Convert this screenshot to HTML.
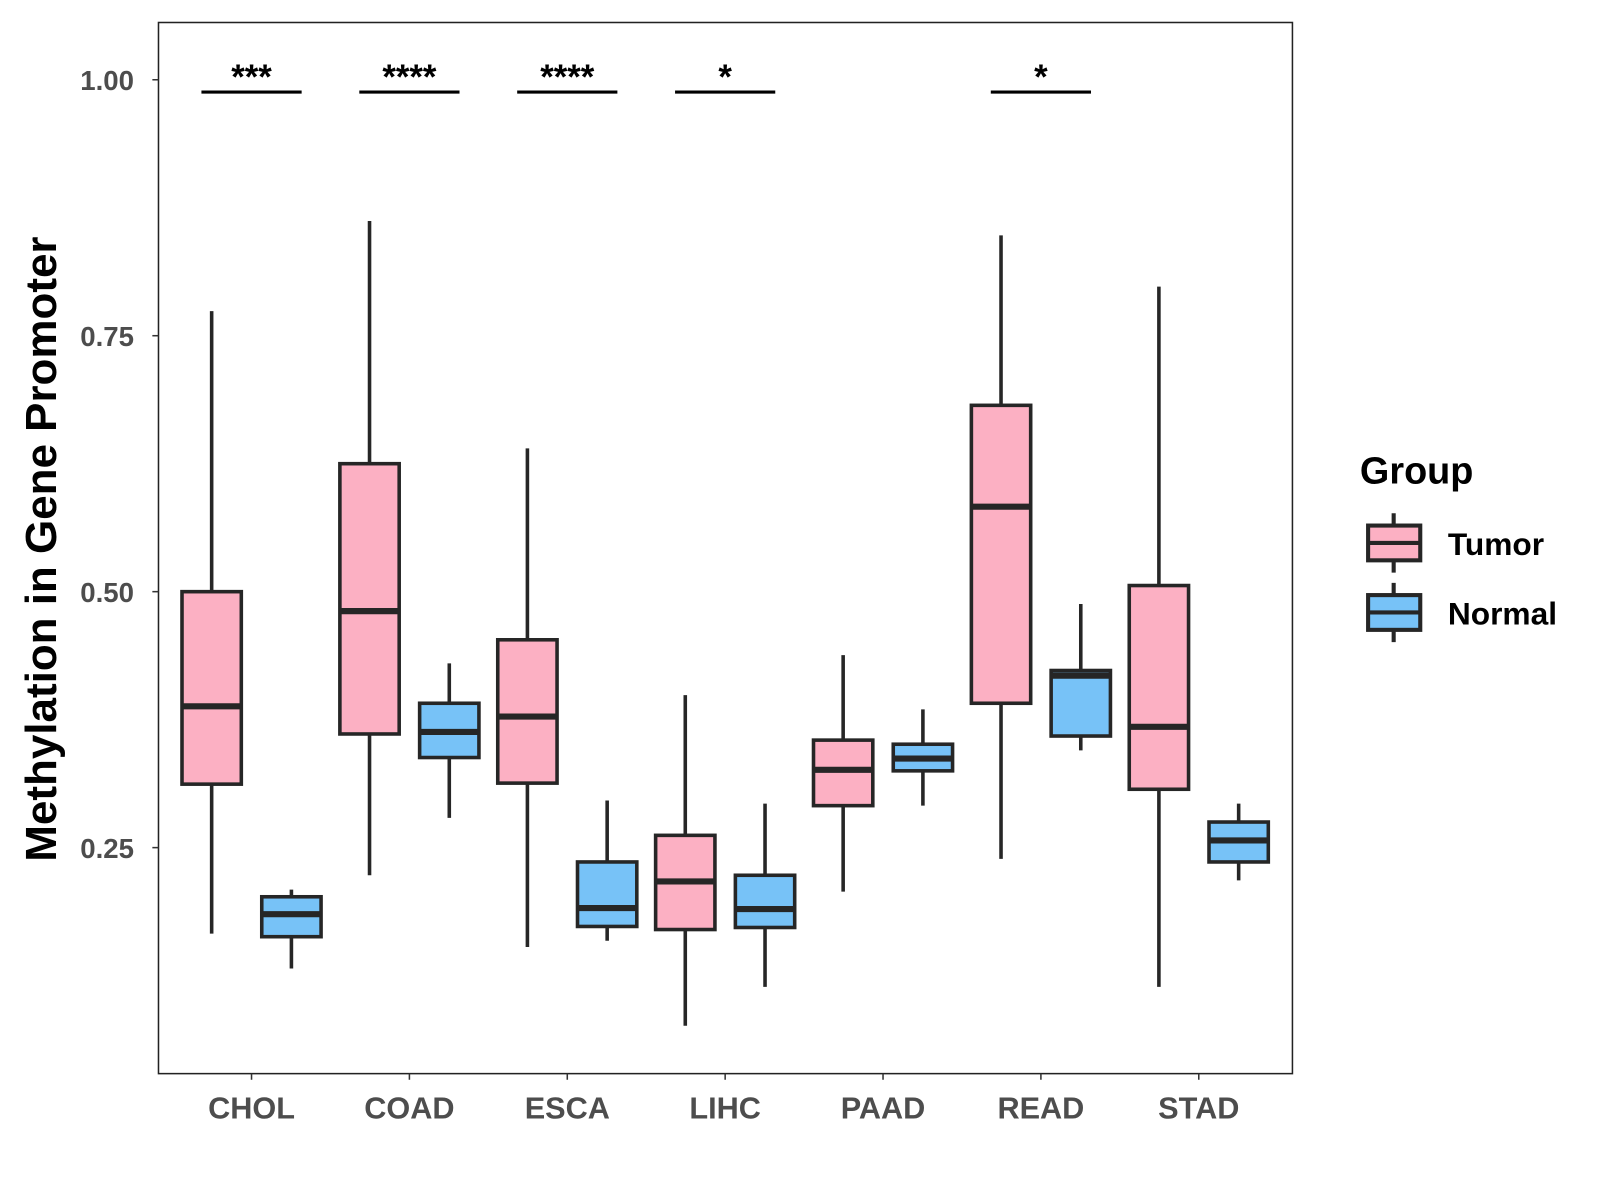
<!DOCTYPE html>
<html><head><meta charset="utf-8"><style>body{margin:0;background:#fff}svg{display:block;font-family:"Liberation Sans",Arial,sans-serif}</style></head>
<body>
<svg id="chart" width="1600" height="1200" xmlns="http://www.w3.org/2000/svg">
<g transform="scale(1.0225)">
<rect x="155" y="22" width="1109" height="1028" fill="#fff" stroke="#222" stroke-width="1.5"/>
<g id="marks"></g>
<text transform="translate(55,537) rotate(-90)" text-anchor="middle" font-size="43" font-weight="bold" fill="#000">Methylation in Gene Promoter</text>
<g>
<text x="1330" y="473" font-size="37" font-weight="bold">Group</text>
<g>
<line x1="1363" y1="502" x2="1363" y2="560" stroke="#262626" stroke-width="4"/>
<rect x="1338" y="514" width="51" height="34" fill="#FCB0C3" stroke="#262626" stroke-width="4"/>
<line x1="1338" y1="531" x2="1389" y2="531" stroke="#262626" stroke-width="4"/>
<text x="1416" y="543" font-size="31" font-weight="bold">Tumor</text></g>
<g>
<line x1="1363" y1="570" x2="1363" y2="628" stroke="#262626" stroke-width="4"/>
<rect x="1338" y="582" width="51" height="34" fill="#77C2F7" stroke="#262626" stroke-width="4"/>
<line x1="1338" y1="599" x2="1389" y2="599" stroke="#262626" stroke-width="4"/>
<text x="1416" y="611" font-size="31" font-weight="bold">Normal</text></g>
</g>
</g>
</svg>
<script>
const categories=["CHOL","COAD","ESCA","LIHC","PAAD","READ","STAD"];
const tumorStats=[[0.166,0.312,0.388,0.500,0.774],[0.223,0.361,0.481,0.625,0.862],[0.153,0.313,0.378,0.453,0.640],[0.076,0.170,0.217,0.262,0.399],[0.207,0.291,0.326,0.355,0.438],[0.239,0.391,0.583,0.682,0.848],[0.114,0.307,0.368,0.506,0.798]];
const normalStats=[[0.132,0.163,0.185,0.202,0.209],[0.279,0.338,0.363,0.391,0.430],[0.159,0.173,0.191,0.236,0.296],[0.114,0.172,0.190,0.223,0.293],[0.291,0.325,0.337,0.351,0.385],[0.345,0.359,0.418,0.423,0.488],[0.218,0.236,0.257,0.275,0.293]];
const significance=["***","****","****","*","","*",""];
const yTicks=[0.25,0.5,0.75,1.0];
const yTickLabels=["0.25","0.50","0.75","1.00"];
const sigLevel=0.988;

const NS="http://www.w3.org/2000/svg";
const g=document.getElementById('marks');
const y=v=>78+(1-v)*1001.3;
const x=i=>246+i*154.4;
function mk(t,a){const e=document.createElementNS(NS,t);for(const k in a)e.setAttribute(k,a[k]);g.appendChild(e);return e;}
yTicks.forEach((t,i)=>{
 const l=mk('line',{x1:149,x2:155,y1:y(t),y2:y(t),stroke:'#333','stroke-width':1.5});
 
 
 const tx=mk('text',{x:131,y:y(t)+10,'text-anchor':'end','font-size':27,'font-weight':'bold',fill:'#4d4d4d'});
 tx.textContent=yTickLabels[i];
 
 
});
categories.forEach((c,i)=>{
 const l=mk('line',{x1:x(i),x2:x(i),y1:1050,y2:1056,stroke:'#333','stroke-width':1.5});
 
 
 const tx=mk('text',{x:x(i),y:1094,'text-anchor':'middle','font-size':30,'font-weight':'bold',fill:'#4d4d4d'});
 tx.textContent=c;
 
 
 [[tumorStats[i],-39,'#FCB0C3','tumor'],[normalStats[i],39,'#77C2F7','normal']].forEach(([s,off,fill,nm])=>{
  const cx=x(i)+off,w=58;
  const grp=mk('g',{});
  
  
  const add=(t,a)=>{const e=document.createElementNS(NS,t);for(const k in a)e.setAttribute(k,a[k]);grp.appendChild(e);};
  add('line',{x1:cx,x2:cx,y1:y(s[4]),y2:y(s[0]),stroke:'#262626','stroke-width':3.5});
  add('rect',{x:cx-w/2,y:y(s[3]),width:w,height:y(s[1])-y(s[3]),fill:fill,stroke:'#262626','stroke-width':3.5});
  add('line',{x1:cx-w/2,x2:cx+w/2,y1:y(s[2]),y2:y(s[2]),stroke:'#262626','stroke-width':6});
 });
 if(significance[i]){
  const l=mk('line',{x1:x(i)-49,x2:x(i)+49,y1:y(sigLevel),y2:y(sigLevel),stroke:'#000','stroke-width':3});
  
  
  const tx=mk('text',{x:x(i),y:y(sigLevel)-3,'text-anchor':'middle','font-size':34,'font-weight':'bold',fill:'#000'});
  tx.textContent=significance[i];
  
  
 }
});
</script>
</body></html>
